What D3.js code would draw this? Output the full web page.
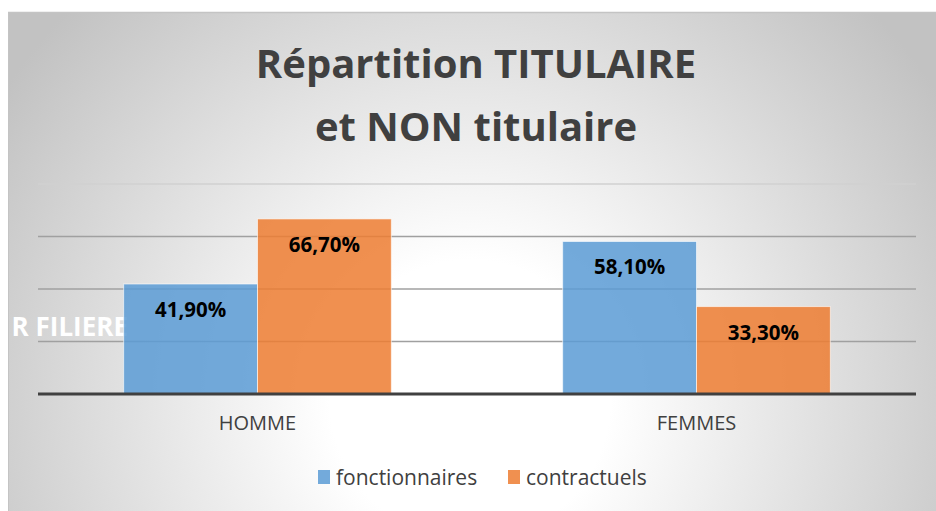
<!DOCTYPE html>
<html>
<head>
<meta charset="utf-8">
<script src="https://cdn.jsdelivr.net/npm/d3@7"></script>
<style>
  body { margin: 0; background: #fff; }
  svg { display: block; }
</style>
</head>
<body>
<div id="chart"></div>
<script>
// data
var categories = ["HOMME", "FEMMES"];
var seriesNames = ["fonctionnaires", "contractuels"];
var fonctionnaires = [41.9, 58.1];
var contractuels = [66.7, 33.3];
var gridTicks = [0, 20, 40, 60, 80];
var titleLines = ["Répartition TITULAIRE", "et NON titulaire"];

var colors = { fonctionnaires: "#5B9BD5", contractuels: "#ED7D31" };

var W = 936, H = 511;
var plot = { left: 38, right: 916, top: 184, bottom: 394 };

var svg = d3.select("#chart").append("svg")
    .attr("width", W)
    .attr("height", H);

var defs = svg.append("defs");
var grad = defs.append("radialGradient")
    .attr("id", "bg")
    .attr("gradientUnits", "userSpaceOnUse")
    .attr("cx", 470).attr("cy", 400).attr("r", 560);
grad.append("stop").attr("offset", "0%").attr("stop-color", "#ffffff");
grad.append("stop").attr("offset", "25%").attr("stop-color", "#ffffff");
grad.append("stop").attr("offset", "100%").attr("stop-color", "#c2c2c2");

// chart frame
svg.append("rect")
    .attr("x", 8).attr("y", 12)
    .attr("width", W - 8).attr("height", H - 12)
    .attr("fill", "url(#bg)");
svg.append("line")
    .attr("x1", 8).attr("x2", W).attr("y1", 12.5).attr("y2", 12.5)
    .attr("stroke", "#c4c4c4").attr("stroke-width", 1.5);
svg.append("line")
    .attr("x1", 8.5).attr("x2", 8.5).attr("y1", 12).attr("y2", H)
    .attr("stroke", "#c4c4c4").attr("stroke-width", 1);

// title
svg.append("g").selectAll("text")
    .data(titleLines)
    .enter().append("text")
    .attr("x", 476)
    .attr("y", function(d, i) { return 78 + i * 63; })
    .attr("text-anchor", "middle")
    .style("font-family", "'Open Sans', sans-serif")
    .style("font-weight", "bold")
    .style("font-size", "40px")
    .style("fill", "#404040")
    .text(function(d) { return d; });

// scales
var x0 = d3.scaleBand()
    .domain(categories)
    .range([plot.left, plot.right])
    .padding(0);

var x1 = d3.scaleBand()
    .domain(seriesNames)
    .range([0, x0.bandwidth()])
    .paddingInner(0)
    .paddingOuter(0.64);

var y = d3.scaleLinear()
    .domain([0, 80])
    .range([plot.bottom, plot.top]);

// gridlines
svg.append("g").selectAll("line")
    .data(gridTicks.filter(function(t) { return t > 0; }))
    .enter().append("line")
    .attr("x1", plot.left).attr("x2", plot.right)
    .attr("y1", function(d) { return y(d); })
    .attr("y2", function(d) { return y(d); })
    .attr("stroke", function(d) { return d === 80 ? "#d0d0d0" : "#a0a0a0"; })
    .attr("stroke-width", 1.5);

// leftover text that sits behind the plot
svg.append("text")
    .attr("x", 128).attr("y", 336)
    .attr("text-anchor", "end")
    .style("font-family", "'Open Sans', sans-serif")
    .style("font-weight", "bold")
    .style("font-size", "26px")
    .style("fill", "#ffffff")
    .text("R FILIERE");

// bars
var rows = categories.map(function(c, i) {
  return { cat: c, values: [
    { key: "fonctionnaires", value: fonctionnaires[i] },
    { key: "contractuels", value: contractuels[i] }
  ]};
});

var groups = svg.append("g").selectAll("g")
    .data(rows)
    .enter().append("g")
    .attr("transform", function(d) { return "translate(" + x0(d.cat) + ",0)"; });

groups.selectAll("rect")
    .data(function(d) { return d.values; })
    .enter().append("rect")
    .attr("x", function(d) { return x1(d.key); })
    .attr("y", function(d) { return y(d.value); })
    .attr("width", x1.bandwidth())
    .attr("height", function(d) { return y(0) - y(d.value); })
    .attr("fill", function(d) { return colors[d.key]; })
    .attr("fill-opacity", 0.85)
    .attr("stroke", "#ffffff")
    .attr("stroke-opacity", 0.6)
    .attr("stroke-width", 1);

groups.selectAll("text")
    .data(function(d) { return d.values; })
    .enter().append("text")
    .attr("x", function(d) { return x1(d.key) + x1.bandwidth() / 2; })
    .attr("y", function(d) { return y(d.value) + 33; })
    .attr("text-anchor", "middle")
    .style("font-family", "'Open Sans', sans-serif")
    .style("font-weight", "bold")
    .style("font-size", "20.5px")
    .style("fill", "#000")
    .text(function(d) { return d3.format(".2f")(d.value).replace(".", ",") + "%"; });

// baseline
svg.append("line")
    .attr("x1", plot.left).attr("x2", plot.right)
    .attr("y1", y(0)).attr("y2", y(0))
    .attr("stroke", "#404040").attr("stroke-width", 3);

// x axis
var xAxis = d3.axisBottom(x0).tickSize(0).tickPadding(18);
var xg = svg.append("g")
    .attr("transform", "translate(0," + (plot.bottom + 4) + ")")
    .call(xAxis);
xg.select(".domain").remove();
xg.selectAll("text")
    .style("font-family", "'Open Sans', sans-serif")
    .style("font-size", "20px")
    .style("fill", "#404040");

// legend
var legendItems = [
  { key: "fonctionnaires", x: 318 },
  { key: "contractuels", x: 508 }
];
var legend = svg.append("g").selectAll("g")
    .data(legendItems)
    .enter().append("g")
    .attr("transform", function(d) { return "translate(" + d.x + ",470)"; });
legend.append("rect")
    .attr("width", 12).attr("height", 14)
    .attr("fill", function(d) { return colors[d.key]; })
    .attr("fill-opacity", 0.85);
legend.append("text")
    .attr("x", 18).attr("y", 15)
    .style("font-family", "'Open Sans', sans-serif")
    .style("font-size", "21px")
    .style("fill", "#404040")
    .text(function(d) { return d.key; });
</script>
</body>
</html>
